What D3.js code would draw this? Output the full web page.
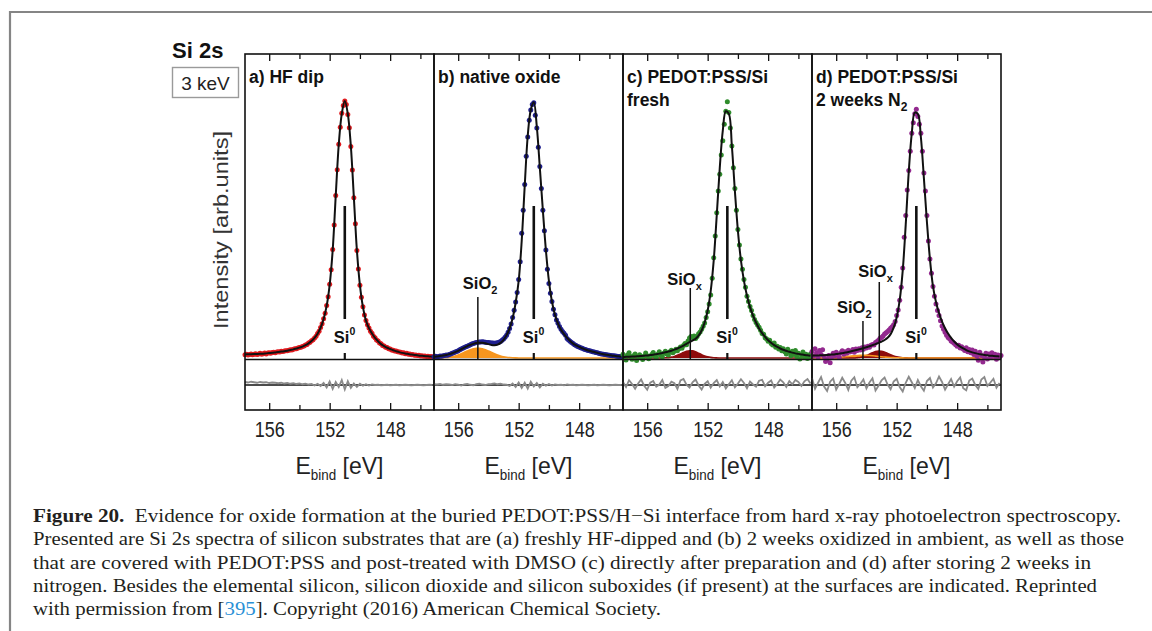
<!DOCTYPE html>
<html><head><meta charset="utf-8">
<script src="https://cdn.jsdelivr.net/npm/d3@7"></script>
<style>
html,body{margin:0;padding:0;background:#fff;}
svg{display:block;}
</style></head><body>
<svg id="chart" width="1152" height="631"></svg>
<script>
// ---------------- DATA ----------------
// measurement grid (binding energy, eV) for data points (0.1 eV) and fit/components (0.2 eV)
const energies = d3.range(0, 126).map(i => +(157.6 - 0.1 * i).toFixed(1));
const fitEnergies = d3.range(0, 63).map(j => +(157.6 - 0.2 * j).toFixed(1));

const panelIds = ["a", "b", "c", "d"];
const panelTitles = [
  [[{t: "a) HF dip"}]],
  [[{t: "b) native oxide"}]],
  [[{t: "c) PEDOT:PSS/Si"}], [{t: "fresh"}]],
  [[{t: "d) PEDOT:PSS/Si"}], [{t: "2 weeks N"}, {t: "2", sub: true}]]
];
const majorTicks = [156, 152, 148];
const tickLabels = ["156", "152", "148"];
const minorTicks = [154, 150, 146];

// (a) HF dip
const dataA = [1.3,1.5,1.2,1.4,1.6,1.3,1.5,1.7,1.4,1.6,
  1.8,1.5,1.7,1.9,1.6,1.9,2.0,1.8,2.1,2.2,
  2.0,2.3,2.4,2.3,2.6,2.5,2.7,2.8,2.8,3.0,
  3.2,3.1,3.4,3.6,3.6,3.9,4.1,4.2,4.5,4.7,
  5.1,5.3,5.8,6.1,6.7,7.1,7.8,8.5,9.5,10.4,
  11.9,13.3,15.3,17.4,20.4,23.8,28.7,34.3,42.2,51.8,
  63.2,73.3,83.2,89.8,95.2,98.3,100,98.6,94.8,89.6,
  82.3,73.2,62.4,52.2,41.8,34.6,28.3,23.6,19.9,16.7,
  14.6,12.9,11.7,10.4,9.6,8.5,7.9,7.0,6.6,5.8,
  5.5,4.9,4.7,4.2,4.1,3.6,3.5,3.1,3.0,2.7,
  2.7,2.4,2.3,2.2,1.9,2.0,1.7,1.8,1.5,1.6,
  1.3,1.4,1.1,1.2,1.0,1.1,0.8,0.9,0.7,0.8,
  0.6,0.7,0.5,0.6,0.4,0.5];
const fitA = [1.4,1.45,1.5,1.55,1.6,1.65,1.7,1.8,1.9,2.0,
  2.15,2.3,2.5,2.65,2.85,3.1,3.35,3.7,4.05,4.45,
  5.0,5.7,6.6,7.8,9.4,11.8,15.2,20.3,28.5,42.0,
  63.0,83.0,95.0,100,95.0,82.5,62.5,42.0,28.4,19.9,
  14.6,11.6,9.5,7.8,6.5,5.4,4.6,4.0,3.5,3.0,
  2.65,2.3,2.0,1.75,1.55,1.35,1.2,1.05,0.9,0.8,
  0.7,0.6,0.5];
const resA = [1.2,1.0,1.3,1.1,0.9,1.2,1.0,1.1,0.8,1.0,
  0.9,0.7,0.9,0.6,0.8,0.5,0.7,0.4,0.6,0.3,
  0.5,0.2,0.4,-0.2,0.5,-0.4,0.8,-1.0,1.4,-1.6,
  1.2,-0.8,2.0,-1.8,1.5,-1.2,0.6,-0.8,0.5,-0.3,
  0.3,-0.2,0.2,0.0,0.1,-0.1,0.0,0.1,-0.1,0.0,
  0.1,-0.1,0.0,0.1,0.0,-0.1,0.0,0.1,0.0,-0.1,
  0.0,0.1,0.0];

// (b) native oxide
const dataB = [0.5,0.7,0.4,0.6,0.8,0.7,0.9,1.0,1.2,1.1,
  1.4,1.6,1.8,2.0,2.3,2.5,2.8,3.2,3.5,3.8,
  4.1,4.4,4.6,4.9,5.2,5.4,5.6,5.8,6.0,6.1,
  6.2,6.2,6.3,6.2,6.1,6.0,6.0,5.9,5.8,5.8,
  5.7,5.8,5.9,6.1,6.4,6.9,7.4,8.1,8.9,10.0,
  11.5,13.2,15.8,18.6,21.8,25.5,30.5,37.5,48.5,57.5,
  67.5,78.5,86.0,92.5,96.5,98.6,99.3,94.5,89.5,82.0,
  74.5,66.0,57.5,49.5,42.0,34.5,29.0,25.2,22.0,19.0,
  16.8,14.8,13.5,12.3,11.2,10.3,9.6,8.9,7.6,7.0,
  6.5,6.0,5.6,5.2,4.9,4.5,4.3,4.0,3.8,3.5,
  3.3,3.1,2.9,2.8,2.6,2.4,2.3,2.1,2.0,1.8,
  1.7,1.6,1.5,1.4,1.3,1.2,1.1,1.0,0.9,0.9,
  0.8,0.7,0.6,0.6,0.5,0.5];
const fitB = [0.5,0.6,0.75,0.95,1.2,1.5,1.85,2.3,2.8,3.4,
  4.0,4.6,5.1,5.5,5.8,5.9,5.9,5.7,5.4,5.1,
  5.0,5.2,5.9,7.1,8.9,11.5,15.5,21.5,30.0,45.5,
  67.0,86.5,96.5,99.5,90.0,74.0,57.5,42.0,30.0,22.0,
  16.8,13.4,11.0,9.3,7.8,6.6,5.6,4.9,4.3,3.8,
  3.3,2.9,2.6,2.3,2.0,1.7,1.5,1.3,1.1,0.9,
  0.8,0.65,0.5];
const sio2B = [0.01,0.02,0.05,0.10,0.18,0.31,0.51,0.80,1.18,1.65,
  2.17,2.71,3.2,3.57,3.77,3.77,3.57,3.2,2.71,2.17,
  1.65,1.18,0.80,0.51,0.31,0.18,0.10,0.05,0.02,0.01,
  0,0,0,0,0,0,0,0,0,0,
  0,0,0,0,0,0,0,0,0,0,
  0,0,0,0,0,0,0,0,0,0,
  0,0,0];
const resB = [0.3,0.2,0.4,0.1,0.3,0.2,0.0,0.3,0.1,-0.2,
  0.2,0.4,0.1,-0.1,0.3,0.5,0.2,0.0,0.3,0.4,
  0.6,0.3,0.5,0.2,0.1,-0.4,0.6,-0.8,1.0,-1.2,
  0.9,-1.5,1.3,-0.6,0.8,-1.0,0.5,-0.3,0.4,-0.2,
  0.2,0.0,0.1,-0.1,0.2,0.0,0.1,-0.1,0.0,0.1,
  0.0,-0.1,0.0,0.1,-0.1,0.0,0.1,0.0,-0.1,0.0,
  0.1,0.0,0.0];

// (c) PEDOT:PSS/Si fresh
const dataC = [1.5,0.3,-0.8,1.2,2.0,0.6,-0.5,0.9,1.6,-1.0,
  0.4,1.3,0.2,-0.6,0.8,1.9,0.9,-0.3,0.6,1.4,
  2.1,0.8,0.2,1.5,2.4,1.1,0.5,1.8,2.6,1.6,
  1.2,2.4,3.0,2.0,2.6,3.4,2.8,3.6,4.3,3.8,
  4.9,5.6,5.2,6.6,7.8,8.4,8.0,8.6,7.6,8.4,
  9.4,10.1,11.2,12.4,13.6,15.8,18.0,21.0,24.5,31.0,
  39.0,47.5,56.5,65.0,71.5,79.0,84.5,91.0,96.0,99.7,
  95.5,89.5,82.5,74.0,66.0,57.5,50.0,44.0,38.5,34.5,
  30.5,27.5,24.0,22.0,20.0,18.5,16.5,15.0,13.8,12.8,
  12.0,10.8,9.5,9.2,7.9,7.4,6.5,6.9,5.6,5.1,
  5.8,4.2,4.6,3.5,4.1,2.8,3.6,2.4,1.6,3.4,
  2.2,0.9,2.6,1.4,2.9,0.6,1.8,-0.4,1.2,2.3,
  0.5,1.5,-0.2,0.8,1.6,0.3];
const fitC = [0.4,0.45,0.5,0.55,0.6,0.7,0.8,0.9,1.0,1.15,
  1.3,1.5,1.7,1.95,2.2,2.5,2.85,3.25,3.7,4.2,
  4.8,5.5,6.2,6.8,7.5,8.7,10.7,13.8,18.5,26.0,
  38.0,55.5,74.0,88.5,96.0,95.0,82.5,65.0,49.5,38.0,
  30.0,24.2,19.8,16.5,13.8,11.5,9.7,8.2,6.9,5.9,
  5.0,4.3,3.7,3.2,2.8,2.4,2.1,1.8,1.6,1.4,
  1.2,1.05,0.9];
const sioxC = [0,0,0,0,0,0,0,0,0,0,
  0,0,0,0.02,0.07,0.16,0.33,0.62,1.05,1.59,
  2.15,2.61,2.84,2.76,2.4,1.87,1.3,0.82,0.45,0.23,
  0.1,0.05,0,0,0,0,0,0,0,0,
  0,0,0,0,0,0,0,0,0,0,
  0,0,0,0,0,0,0,0,0,0,
  0,0,0];
const resC = [1.2,-0.8,1.9,0.4,-1.5,0.6,2.2,-0.3,-1.9,0.9,
  1.6,-0.7,0.2,2.0,-1.2,-0.4,1.3,0.7,-1.6,1.8,
  2.4,0.1,-1.0,1.1,2.2,-0.2,-1.8,0.5,1.5,-1.1,
  0.8,2.0,-0.6,1.2,-1.4,0.3,1.9,-0.9,0.6,2.3,
  0.8,-1.3,1.4,0.2,-0.7,1.7,2.1,-0.5,0.9,1.8,
  -1.0,0.4,2.2,1.1,-0.8,1.6,0.3,2.0,1.2,-0.4,
  1.5,2.4,0.6];

// (d) PEDOT:PSS/Si 2 weeks N2
const dataD = [2.5,0.8,3.6,1.9,0.2,2.9,1.4,3.2,0.6,-1.4,
  -0.6,1.0,-1.8,0.4,1.8,0.9,2.2,1.1,0.3,2.0,
  2.8,1.5,2.4,1.8,3.0,2.3,2.6,3.3,2.2,3.5,
  2.9,3.6,3.1,4.0,3.4,4.3,3.9,4.6,4.2,5.0,
  5.3,5.1,6.0,6.4,6.9,7.7,8.0,8.6,9.3,9.8,
  10.3,10.9,11.6,12.2,12.9,14.2,16.5,18.7,22.5,27.5,
  35.0,47.0,55.5,65.4,73.0,80.5,87.5,91.5,95.0,96.8,
  94.0,91.0,87.5,80.5,72.0,65.0,55.5,45.5,38.5,33.0,
  27.8,24.0,21.0,18.5,16.5,14.5,12.5,11.2,10.0,8.9,
  8.0,7.5,6.6,6.2,5.7,5.2,4.6,5.0,3.9,4.4,
  3.5,2.9,4.0,2.4,3.3,2.0,3.1,1.4,2.6,0.8,
  -0.9,2.2,1.0,-1.6,0.4,1.8,-0.4,1.6,0.2,2.0,
  0.7,1.5,-0.5,1.2,0.4,1.0];
const fitD = [0.9,0.95,1.0,1.05,1.1,1.2,1.3,1.4,1.55,1.7,
  1.9,2.1,2.35,2.6,2.9,3.2,3.5,3.85,4.2,4.6,
  5.0,5.4,5.9,6.4,7.0,7.9,9.3,11.8,15.8,22.5,
  34.0,52.0,72.5,87.5,95.5,95.0,86.0,70.0,53.0,38.5,
  28.0,21.8,17.5,14.2,11.6,9.5,7.8,6.4,5.3,4.4,
  3.7,3.1,2.6,2.2,1.9,1.6,1.4,1.2,1.05,0.9,
  0.8,0.7,0.6];
const sio2D = [0,0.01,0.02,0.02,0.04,0.06,0.10,0.15,0.22,0.30,
  0.41,0.53,0.65,0.78,0.88,0.97,1.02,1.04,1.02,0.95,
  0.86,0.74,0.61,0.49,0.38,0.27,0.19,0.14,0.09,0.06,
  0.03,0.02,0.01,0,0,0,0,0,0,0,
  0,0,0,0,0,0,0,0,0,0,
  0,0,0,0,0,0,0,0,0,0,
  0,0,0];
const sioxD = [0,0,0,0,0,0,0,0,0,0,
  0,0,0,0,0,0.15,0.31,0.58,0.99,1.5,
  2.04,2.48,2.69,2.62,2.28,1.77,1.24,0.78,0.45,0.25,
  0.12,0.05,0,0,0,0,0,0,0,0,
  0,0,0,0,0,0,0,0,0,0,
  0,0,0,0,0,0,0,0,0,0,
  0,0,0];
const resD = [2.8,-1.5,0.9,3.2,-0.6,-2.4,1.3,2.6,-1.8,0.4,
  2.9,0.8,-2.0,1.7,3.1,-0.9,0.5,2.2,-1.4,1.0,
  2.7,-2.2,-0.3,1.9,3.0,0.2,-1.7,1.4,2.5,-0.8,
  -2.6,0.9,3.3,1.1,-1.2,2.0,-0.5,-2.3,1.6,2.8,
  -1.0,0.7,3.4,1.2,-1.9,0.3,2.4,-0.7,1.5,3.0,
  -1.3,-2.1,1.8,2.6,0.0,-1.6,2.2,3.2,-0.4,1.0,
  2.5,-1.1,0.8];

// peak assignments (binding energies, eV)
const si0Energy = [151.0, 151.0, 150.7, 150.7];
const oxideMarks = [
  [],
  [{name: "SiO", sub: "2", e: 154.7}],
  [{name: "SiO", sub: "x", e: 153.15}],
  [{name: "SiO", sub: "x", e: 153.15}, {name: "SiO", sub: "2", e: 154.23}]
];

// ---------------- STYLE / LAYOUT ----------------
const dotColors = ["#e01a1e", "#1f1f8f", "#2f8c2c", "#93298f"];
const orange = "#f7961f", darkRed = "#8e0c0c";
const panels = [
  {data: dataA, fit: fitA, res: resA, comps: []},
  {data: dataB, fit: fitB, res: resB, comps: [{v: sio2B, c: orange}]},
  {data: dataC, fit: fitC, res: resC, comps: [{v: sioxC, c: darkRed}]},
  {data: dataD, fit: fitD, res: resD, comps: [{v: sio2D, c: orange}, {v: sioxD, c: darkRed}]}
];
const sansFont = "'Liberation Sans', Arial, Helvetica, sans-serif";
const serifFont = "'Liberation Serif', 'Times New Roman', serif";

const svg = d3.select("#chart");
svg.append("rect").attr("width", 1152).attr("height", 631).attr("fill", "#fff");
// outer frame (top and left edges)
svg.append("path").attr("d", "M10,631 V12 H1152").attr("fill", "none")
  .attr("stroke", "#858585").attr("stroke-width", 2.2);

const plotX0 = 245, panelW = 189, plotTop = 54, sepY = 359.5, plotBottom = 410;
const y = d3.scaleLinear().domain([0, 118.3]).range([358, 54]);
const yr = d3.scaleLinear().domain([-10, 10]).range([410, 360]);

function rich(sel, x, yy, segs, opts) {
  const t = sel.append("text").attr("x", x).attr("y", yy)
    .attr("font-family", opts.family || sansFont)
    .attr("font-size", opts.size).attr("font-weight", opts.weight || "normal")
    .attr("fill", opts.fill || "#111");
  if (opts.anchor) t.attr("text-anchor", opts.anchor);
  let shift = 0;
  segs.forEach(s => {
    const ts = t.append("tspan").text(s.t);
    let target = 0;
    if (s.sub) { ts.attr("font-size", opts.subSize || opts.size * 0.65); target = opts.subDy || 5; }
    if (s.sup) { ts.attr("font-size", opts.subSize || opts.size * 0.65); target = -(opts.supDy || 7); }
    if (target !== shift) { ts.attr("dy", target - shift); shift = target; }
    if (s.fill) ts.attr("fill", s.fill);
    if (s.bold) ts.attr("font-weight", "bold");
    if (s.dx) ts.attr("dx", s.dx);
  });
  return t;
}

const oxLayout = {
  "1-0": {top: 297, ly: 289, lx: -15},
  "2-0": {top: 288, ly: 285, lx: -23},
  "3-0": {top: 282, ly: 277, lx: -21},
  "3-1": {top: 321, ly: 313, lx: -26}
};

panels.forEach((p, k) => {
  const left = plotX0 + k * panelW;
  const x = d3.scaleLinear().domain([157.6, 145.1]).range([left, left + panelW]);
  const g = svg.append("g").attr("class", "panel-" + panelIds[k]);

  // fitted components
  p.comps.forEach(c => {
    g.append("path").datum(c.v)
      .attr("d", d3.area().x((d, i) => x(fitEnergies[i])).y0(y(0)).y1(d => y(d)).curve(d3.curveMonotoneX))
      .attr("fill", c.c);
  });
  p.comps.slice().reverse().forEach(c => {
    g.append("path").datum(c.v)
      .attr("d", d3.line().x((d, i) => x(fitEnergies[i])).y(d => y(d)).curve(d3.curveMonotoneX))
      .attr("fill", "none").attr("stroke", c.c).attr("stroke-width", 1.6);
  });

  // data points
  g.append("g").selectAll("circle").data(p.data).join("circle")
    .attr("cx", (d, i) => x(energies[i])).attr("cy", d => y(d))
    .attr("r", 2.5).attr("fill", dotColors[k]);

  // envelope fit
  g.append("path").datum(p.fit)
    .attr("d", d3.line().x((d, i) => x(fitEnergies[i])).y(d => y(d)).curve(d3.curveCatmullRom))
    .attr("fill", "none").attr("stroke", "#111").attr("stroke-width", 2);

  // residual
  g.append("line").attr("x1", left).attr("x2", left + panelW).attr("y1", yr(0)).attr("y2", yr(0))
    .attr("stroke", "#111").attr("stroke-width", 1.6);
  g.append("path").datum(p.res)
    .attr("d", d3.line().x((d, i) => x(fitEnergies[i])).y(d => yr(d)))
    .attr("fill", "none").attr("stroke", "#8a8a8a").attr("stroke-width", 1.8);

  // separator between spectrum and residual
  g.append("line").attr("x1", left).attr("x2", left + panelW).attr("y1", sepY).attr("y2", sepY)
    .attr("stroke", "#111").attr("stroke-width", 1.5);

  // axes ticks (inward), bottom with labels and top without
  const axB = d3.axisBottom(x).tickValues(majorTicks).tickSize(-7).tickPadding(0)
    .tickFormat((d, i) => tickLabels[i]);
  const gB = g.append("g").attr("transform", `translate(0,${plotBottom})`).call(axB);
  gB.select(".domain").remove();
  gB.selectAll("line").attr("stroke", "#111").attr("stroke-width", 1.3);
  gB.selectAll("text").attr("y", 11).attr("font-size", 22).attr("font-family", sansFont)
    .attr("fill", "#222").attr("textLength", 30).attr("lengthAdjust", "spacingAndGlyphs");
  const gBm = g.append("g").attr("transform", `translate(0,${plotBottom})`)
    .call(d3.axisBottom(x).tickValues(minorTicks).tickSize(-5).tickFormat(""));
  gBm.select(".domain").remove();
  gBm.selectAll("line").attr("stroke", "#111").attr("stroke-width", 1.3);
  [majorTicks, minorTicks].forEach((tv, ti) => {
    const gt = g.append("g").attr("transform", `translate(0,${plotTop})`)
      .call(d3.axisTop(x).tickValues(tv).tickSize(ti === 0 ? -7 : -5).tickFormat(""));
    gt.select(".domain").remove();
    gt.selectAll("line").attr("stroke", "#111").attr("stroke-width", 1.3);
  });

  // panel frame
  g.append("rect").attr("x", left).attr("y", plotTop).attr("width", panelW).attr("height", plotBottom - plotTop)
    .attr("fill", "none").attr("stroke", "#111").attr("stroke-width", 1.6);

  // x-axis title
  rich(g, left + panelW / 2, 474, [{t: "E"}, {t: "bind", sub: true}, {t: " [eV]"}],
    {size: 24, anchor: "middle", fill: "#222", subSize: 14, subDy: 6})
    .attr("textLength", 88).attr("lengthAdjust", "spacingAndGlyphs");

  // panel title
  panelTitles[k].forEach((line, li) => {
    rich(g, left + 4, 83 + li * 23, line, {size: 17.5, weight: "bold", fill: "#111", subSize: 12, subDy: 5});
  });

  // Si0 marker
  const xs = x(si0Energy[k]);
  g.append("line").attr("x1", xs).attr("x2", xs).attr("y1", 206).attr("y2", 319)
    .attr("stroke", "#111").attr("stroke-width", 2.6);
  g.append("line").attr("x1", xs).attr("x2", xs).attr("y1", 353).attr("y2", 360)
    .attr("stroke", "#111").attr("stroke-width", 2.2);
  rich(g, xs - 11, 343, [{t: "Si"}, {t: "0", sup: true}],
    {size: 16.5, weight: "bold", fill: "#111", subSize: 10.5, supDy: 8});

  // oxide markers
  oxideMarks[k].forEach((m, mi) => {
    const L = oxLayout[k + "-" + mi];
    const xm = x(m.e);
    g.append("line").attr("x1", xm).attr("x2", xm).attr("y1", L.top).attr("y2", sepY)
      .attr("stroke", "#111").attr("stroke-width", 1.5);
    rich(g, xm + L.lx, L.ly, [{t: m.name}, {t: m.sub, sub: true}],
      {size: 16.5, weight: "bold", fill: "#111", subSize: 11, subDy: 5});
  });
});

// left labels
rich(svg, 172, 58, [{t: "Si 2s"}], {size: 22, weight: "bold", fill: "#111"});
svg.append("rect").attr("x", 172.5).attr("y", 67.5).attr("width", 66).attr("height", 30)
  .attr("fill", "#fff").attr("stroke", "#9a9a9a").attr("stroke-width", 1.4);
rich(svg, 205.5, 90, [{t: "3 keV"}], {size: 19, anchor: "middle", fill: "#222"});
svg.append("text").attr("transform", "translate(228,230) rotate(-90)")
  .attr("text-anchor", "middle").attr("font-family", sansFont).attr("font-size", 21)
  .attr("fill", "#333").attr("textLength", 198).attr("lengthAdjust", "spacingAndGlyphs")
  .text("Intensity [arb.units]");

// caption
const capLines = [
  [{t: "Figure 20.", bold: true}, {t: "Evidence for oxide formation at the buried PEDOT:PSS/H\u2212Si interface from hard x-ray photoelectron spectroscopy.", dx: 9}],
  [{t: "Presented are Si 2s spectra of silicon substrates that are (a) freshly HF-dipped and (b) 2 weeks oxidized in ambient, as well as those"}],
  [{t: "that are covered with PEDOT:PSS and post-treated with DMSO (c) directly after preparation and (d) after storing 2 weeks in"}],
  [{t: "nitrogen. Besides the elemental silicon, silicon dioxide and silicon suboxides (if present) at the surfaces are indicated. Reprinted"}],
  [{t: "with permission from ["}, {t: "395", fill: "#2a90d6"}, {t: "]. Copyright (2016) American Chemical Society."}]
];
const capWidths = [1088, 1091, 1058, 1064, 628];
capLines.forEach((segs, li) =>
  rich(svg, 33, 522 + li * 23.3, segs, {size: 18.5, family: serifFont, fill: "#231f20"})
    .attr("textLength", capWidths[li]).attr("lengthAdjust", "spacingAndGlyphs"));
</script></body></html>
